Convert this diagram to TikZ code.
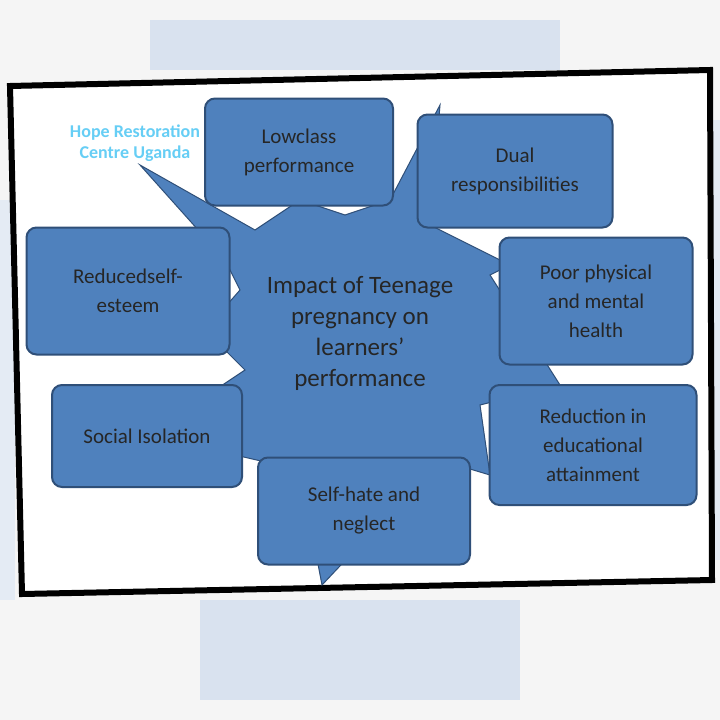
\documentclass[tikz,border=0pt]{standalone}
\usepackage{fontspec}
\setmainfont{Carlito}
\begin{document}
\begin{tikzpicture}[x=1pt,y=-1pt,
  box/.style={draw=boxline,line width=2pt,fill=boxblue,rounded corners=10pt,align=center,font=\fontsize{21}{29}\selectfont,text=black!85},
  ]
\definecolor{boxblue}{HTML}{4F81BD}
\definecolor{boxline}{HTML}{2F4F78}
\definecolor{bgblue}{HTML}{C9D6E8}
\useasboundingbox (0,0) rectangle (720,720);
\fill[gray!8] (0,0) rectangle (720,720);
\fill[bgblue!70] (150,20) rectangle (560,70);
\fill[bgblue!70] (200,600) rectangle (520,700);
\fill[bgblue!50] (0,200) rectangle (15,600);
\fill[bgblue!50] (708,120) rectangle (720,560);
% frame
\draw[line width=6pt,fill=white] (10,86) -- (710,70) -- (712,580) -- (22,594) -- cycle;
% star
\fill[boxblue,draw=boxline,line width=1pt] (140,165) -- (255,230) -- (300,200) -- (345,215) -- (390,200) -- (440,105) -- (430,225) -- (510,265) -- (490,275) -- (560,385) -- (480,405) -- (490,475) -- (440,460) -- (322,585) -- (300,470) -- (235,455) -- (215,390) -- (245,370) -- (205,330) -- (240,290) -- (225,260) -- cycle;
\node[font=\fontsize{25}{31}\selectfont,align=center,text=black!85] (c) at (360,333) {Impact of Teenage\\pregnancy on\\learners'\\performance};
\node[box,minimum width=188pt,minimum height=107pt] (b1) at (299,152) {Lowclass\\performance};
\node[box,minimum width=195pt,minimum height=113pt] (b2) at (515,171) {Dual\\responsibilities};
\node[box,minimum width=203pt,minimum height=127pt] (b3) at (128,291) {Reducedself-\\esteem};
\node[box,minimum width=193pt,minimum height=127pt] (b4) at (596,301) {Poor physical\\and mental\\health};
\node[box,minimum width=190pt,minimum height=102pt] (b5) at (147,436) {Social Isolation};
\node[box,minimum width=207pt,minimum height=120pt] (b6) at (593,445) {Reduction in\\educational\\attainment};
\node[box,minimum width=212pt,minimum height=107pt] (b7) at (364,511) {Self-hate and\\neglect};
\node[font=\bfseries\fontsize{18}{21}\selectfont,align=center,text=cyan!60!white] (w) at (135,143) {Hope Restoration\\Centre Uganda};
\end{tikzpicture}
\end{document}
